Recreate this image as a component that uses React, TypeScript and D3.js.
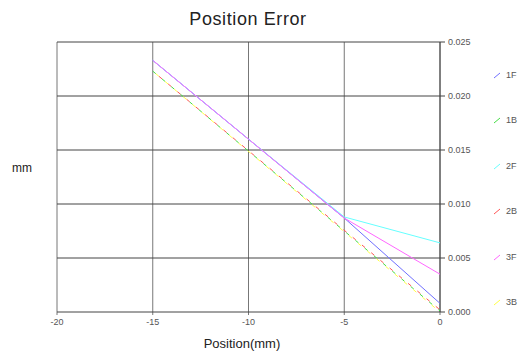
import React from "react";
import * as d3 from "d3";

const xTicks = [-20, -15, -10, -5, 0];
const yTicks = [0, 0.005, 0.01, 0.015, 0.02, 0.025];
const seriesNames = ["1F", "1B", "2F", "2B", "3F", "3B"];
const seriesColors = ["#6f6fff", "#44dd44", "#66ffff", "#ff5555", "#ff66ff", "#ffff44"];
const seriesDashed = [false, true, false, true, false, true];
const xs1F = [-15, -10, -5, 0];
const ys1F = [0.0233, 0.0160, 0.0087, 0.0008];
const xs1B = [-15, 0];
const ys1B = [0.0223, 0.0001];
const xs2F = [-15, -10, -5, 0];
const ys2F = [0.0233, 0.0160, 0.0088, 0.0064];
const xs2B = [-15, 0];
const ys2B = [0.0223, 0.0002];
const xs3F = [-15, -10, -5, 0];
const ys3F = [0.0233, 0.0160, 0.0087, 0.0035];
const xs3B = [-15, 0];
const ys3B = [0.0223, 0.0000];

const seriesX = [xs1F, xs1B, xs2F, xs2B, xs3F, xs3B];
const seriesY = [ys1F, ys1B, ys2F, ys2B, ys3F, ys3B];

export default function App() {
  const W = 522, H = 353;
  const L = 57, R = 440, T = 42, B = 312;
  const x = d3.scaleLinear().domain([-20, 0]).range([L, R]);
  const y = d3.scaleLinear().domain([0, 0.025]).range([B, T]);
  const line = d3.line<[number, number]>().x(d => x(d[0])).y(d => y(d[1]));
  const font = "'Liberation Sans', Arial, sans-serif";
  const dashOffsets = [0, 0, 0, 4, 0, 8];
  const legendY = [75, 120, 166, 211, 257, 302];
  const order = [1, 3, 5, 0, 2, 4];
  return (
    <svg width={W} height={H} style={{ position: "absolute", left: 0, top: 0 }} fontFamily={font}>
      <rect width={W} height={H} fill="#fff" />
      <text x={248} y={25} textAnchor="middle" fontSize={18} letterSpacing={0.6} fill="#222">Position Error</text>
      {xTicks.map(t => (
        <line key={"vx" + t} x1={x(t)} x2={x(t)} y1={T} y2={B + 3} stroke="#777" strokeWidth={1} />
      ))}
      {yTicks.map(t => (
        <line key={"hy" + t} x1={L} x2={R + 5} y1={y(t)} y2={y(t)} stroke="#444" strokeWidth={1} />
      ))}
      <line x1={R} x2={R} y1={T} y2={B} stroke="#444" />
      {xTicks.map(t => (
        <text key={"xl" + t} x={x(t)} y={325} textAnchor="middle" fontSize={9} fill="#555">{t < 0 ? "-" + Math.abs(t) : t}</text>
      ))}
      {yTicks.map(t => (
        <text key={"yl" + t} x={448} y={y(t) + 3} fontSize={9} fill="#555">{t.toFixed(3)}</text>
      ))}
      <text x={242} y={348} textAnchor="middle" fontSize={13} fill="#222">Position(mm)</text>
      <text x={22} y={172} textAnchor="middle" fontSize={12} fill="#222">mm</text>
      {order.map(i => {
        const pts = seriesX[i].map((v, k) => [v, seriesY[i][k]] as [number, number]);
        return (
          <path key={"s" + i} d={line(pts) || ""} fill="none" stroke={seriesColors[i]} strokeWidth={1}
            strokeDasharray={seriesDashed[i] ? "4,8" : undefined} strokeDashoffset={dashOffsets[i]} />
        );
      })}
      {seriesNames.map((n, i) => (
        <g key={"lg" + n}>
          <line x1={494} x2={500} y1={legendY[i] + 3} y2={legendY[i] - 2} stroke={seriesColors[i]} />
          <text x={506} y={legendY[i] + 3} fontSize={9} fill="#555">{n}</text>
        </g>
      ))}
    </svg>
  );
}
